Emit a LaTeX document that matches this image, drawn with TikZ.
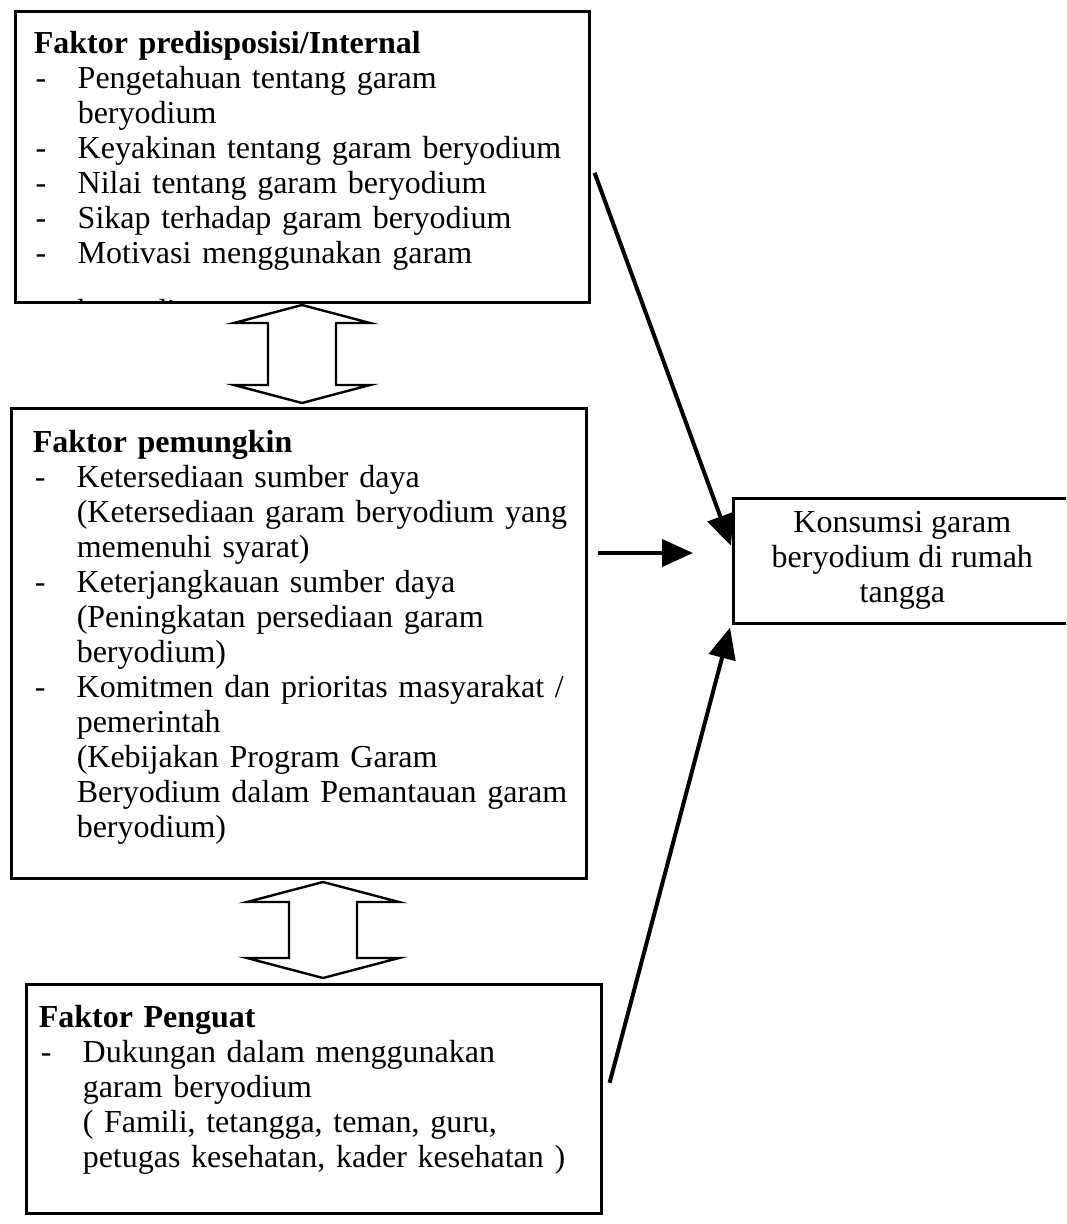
\documentclass[tikz,border=0pt]{standalone}
\usepackage{fontspec}
\setmainfont{Liberation Serif}
\usetikzlibrary{arrows.meta}
\usetikzlibrary{calc}
\tikzset{every picture/.style={line width=0.75pt}}
\newcommand{\dashitem}{\par\hangindent=22pt\hangafter=1\noindent\makebox[22pt][l]{\hspace{1pt}-}}

\begin{document}
\begin{tikzpicture}[x=0.5pt,y=0.5pt,yscale=-1,xscale=1,
  factor/.style={draw, line width=1.3pt, anchor=north west, inner sep=0pt},
  factortext/.style={anchor=base west, inner sep=0pt, align=left, font=\fontsize{16}{17.5}\selectfont},
  push/.style={line width=2pt, -{Triangle[length=15.5pt,width=13.5pt]}},
  twoway/.style={draw, line width=1.2pt, fill=white}]
\useasboundingbox (0,0) rectangle (1066,1224);
\clip (0,0) rectangle (1066,1224);

%Boxes
\node [factor, minimum width=287pt, minimum height=145.5pt] (predis) at (14,10) {};
\node [factor, minimum width=287.5pt, minimum height=235pt] (pemungkin) at (10,407) {};
\node [factor, minimum width=287.5pt, minimum height=114.5pt] (penguat) at (25,983) {};
\node [factor, minimum width=169pt, minimum height=62.5pt, align=center, font=\fontsize{16}{17.5}\selectfont] (konsumsi) at (732,497) {Konsumsi garam\\beryodium di rumah\\tangga};

% Text of the boxes
\node [factortext, text width=280pt] (predistext) at ($(predis.north west)+(19,44)$) {\textbf{Faktor predisposisi/Internal}
\dashitem Pengetahuan tentang garam\newline beryodium
\dashitem Keyakinan tentang garam beryodium
\dashitem Nilai tentang garam beryodium
\dashitem Sikap terhadap garam beryodium
\dashitem Motivasi menggunakan garam\par};
\begin{scope}
\clip (predis.north west) rectangle (predis.south east);
\node [factortext] (predislast) at ($(predis.north west)+(63,312)$) {beryodium};
\end{scope}
\node [factortext, text width=280pt] (pemungkintext) at ($(pemungkin.north west)+(22,45)$) {\textbf{Faktor pemungkin}
\dashitem Ketersediaan sumber daya\newline (Ketersediaan garam beryodium yang\newline memenuhi syarat)
\dashitem Keterjangkauan sumber daya\newline (Peningkatan persediaan garam\newline beryodium)
\dashitem Komitmen dan prioritas masyarakat /\newline pemerintah\newline (Kebijakan Program Garam\newline Beryodium dalam Pemantauan garam\newline beryodium)\par};
\node [factortext, text width=280pt] (penguattext) at ($(penguat.north west)+(13,44)$) {\textbf{Faktor Penguat}
\dashitem Dukungan dalam menggunakan\newline garam beryodium\newline ( Famili, tetangga, teman, guru,\newline petugas kesehatan, kader kesehatan )\par};

% Two-way arrows
\coordinate (link1) at (302,354);
\coordinate (link2) at (323,930);
\draw [twoway, shift={(link1)}] (0,-49) -- (68,-31) -- (34,-31) -- (34,31) -- (68,31) -- (0,49) -- (-68,31) -- (-34,31) -- (-34,-31) -- (-68,-31) -- cycle;
\draw [twoway, shift={(link2)}] (0,-48) -- (76,-28) -- (34,-28) -- (34,28) -- (76,28) -- (0,48) -- (-76,28) -- (-34,28) -- (-34,-28) -- (-76,-28) -- cycle;

% Arrows to the right box
\coordinate (pushfrom) at (598,553);
\coordinate (pushto) at (693,553);
\draw [push] ($(predis.east)+(4,16)$) -- ($(konsumsi.west)+(-1,-15)$);
\draw [push] (pushfrom) -- (pushto);
\draw [push] ($(penguat.east)+(7,-16)$) -- ($(konsumsi.south west)+(-2,3)$);

\end{tikzpicture}
\end{document}
